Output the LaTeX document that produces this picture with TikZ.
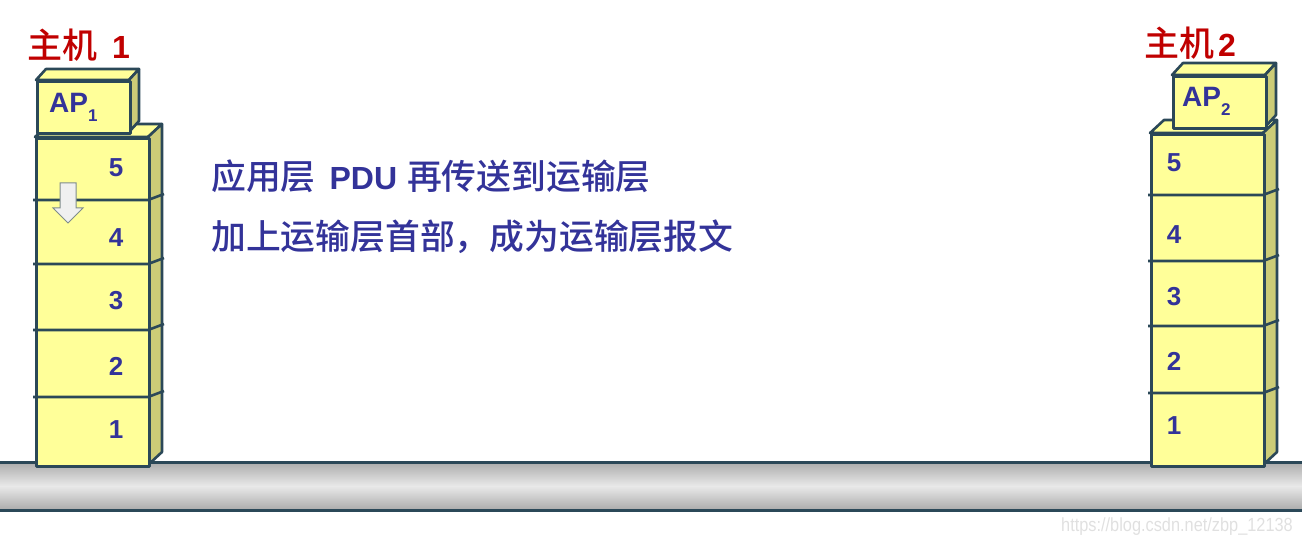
\documentclass[tikz,border=0pt]{standalone}
\usepackage{fontspec}
\setsansfont{Liberation Sans}
\newfontfamily\cjk{Noto Sans CJK SC}[UprightFont={* Medium}]
\definecolor{boxfront}{HTML}{FFFF99}
\definecolor{boxside}{HTML}{CCCC77}
\definecolor{edge}{HTML}{2B4858}
\definecolor{txtblue}{HTML}{333399}
\definecolor{hostred}{HTML}{C00000}
\definecolor{busdark}{HTML}{ABABAB}
\definecolor{buslight}{HTML}{E9E9E9}
\definecolor{arrfill}{HTML}{F0F0F0}
\definecolor{arredge}{HTML}{7F8C8C}
\tikzset{
  face/.style={draw=edge, line width=2.6pt, line join=round},
  front/.style={face, fill=boxfront},
  side/.style={face, fill=boxside},
  sep/.style={draw=edge, line width=2.6pt},
  laynum/.style={font=\sffamily\bfseries\fontsize{26}{26}\selectfont, text=txtblue, inner sep=0pt},
  aplabel/.style={font=\sffamily\bfseries\fontsize{28}{28}\selectfont, text=txtblue, inner sep=0pt, anchor=west},
  hostlabel/.style={font=\fontsize{35}{35}\selectfont, text=hostred, inner sep=0pt, anchor=west},
  maintext/.style={font=\fontsize{34.8}{34.8}\selectfont, text=txtblue, inner sep=0pt, anchor=west},
  downarrow/.style={draw=arredge, fill=arrfill, line width=1pt, line join=miter},
}
\newcommand\hostnum[1]{{\sffamily\bfseries\fontsize{32}{32}\selectfont #1}}
% 3D box: #1 name, #2 x1, #3 y1, #4 x2, #5 y2, #6 dx, #7 dy
\newcommand\mythreebox[7]{%
  \path[front] (#2,#3) -- ({#2+#6},{#3-#7}) -- ({#4+#6},{#3-#7}) -- (#4,#3) -- cycle;
  \path[side] (#4,#3) -- ({#4+#6},{#3-#7}) -- ({#4+#6},{#5-#7}) -- (#4,#5) -- cycle;
  \node[front, rectangle, inner sep=0pt, minimum width={#4-#2}, minimum height={#5-#3}, anchor=north west] (#1) at (#2,#3) {};
}
\begin{document}
\begin{tikzpicture}[x=1pt,y=-1pt]
\useasboundingbox (0,0) rectangle (1302,545);
% bus
\shade[top color=busdark, bottom color=busdark, middle color=buslight] (0,462) rectangle (1302,510);
\draw[sep, line width=3pt] (0,462) -- (1302,462);
\draw[sep, line width=3pt] (0,510) -- (1302,510);

% host 1 stack
\mythreebox{s1}{35}{137}{148}{465}{14}{13}
\mythreebox{ap1}{36}{80}{129}{132}{10}{11}
\foreach \yy in {200,264,330,397}{
  \draw[sep] (33,\yy) -- (148,\yy) -- (164,\yy-6);
}
\node[laynum] (h1n5) at (116,168) {5};
\node[laynum] (h1n4) at (116,238) {4};
\node[laynum] (h1n3) at (116,301) {3};
\node[laynum] (h1n2) at (116,366) {2};
\node[laynum] (h1n1) at (116,430) {1};
\node[aplabel] (ap1t) at (49,107) {AP\raisebox{-0.32em}{\fontsize{17}{17}\selectfont 1}};
\node[hostlabel] (host1) at (27,45) {{\cjk 主机}\hspace{15pt}\hostnum{1}};
\path[downarrow] (60,183) -- (76,183) -- (76,208) -- (83,208) -- (68,223) -- (53,208) -- (60,208) -- cycle;

% host 2 stack
\mythreebox{s2}{1150}{133}{1263}{465}{14}{13}
\mythreebox{ap2}{1172}{75}{1265}{127}{11}{12}
\foreach \yy in {195,261,326,393}{
  \draw[sep] (1148,\yy) -- (1263,\yy) -- (1279,\yy-6);
}
\node[laynum] (h2n5) at (1174,163) {5};
\node[laynum] (h2n4) at (1174,235) {4};
\node[laynum] (h2n3) at (1174,297) {3};
\node[laynum] (h2n2) at (1174,361) {2};
\node[laynum] (h2n1) at (1174,426) {1};
\node[aplabel] (ap2t) at (1182,101) {AP\raisebox{-0.32em}{\fontsize{17}{17}\selectfont 2}};
\node[hostlabel] (host2) at (1144,43) {{\cjk 主机}\hspace{4pt}\hostnum{2}};

% main texts
\node[maintext] (t1) at (211,176) {{\cjk 应用层}\hspace{14pt}{\sffamily\bfseries\fontsize{32}{32}\selectfont PDU}\hspace{10pt}{\cjk 再传送到运输层}};
\node[maintext] (t2) at (211,237) {{\cjk 加上运输层首部，成为运输层报文}};

% watermark
\node[font=\sffamily\fontsize{19}{19}\selectfont, text=black!12, inner sep=0pt, anchor=east, xscale=0.86] (wm) at (1293,527) {https://blog.csdn.net/zbp\_12138};
\end{tikzpicture}
\end{document}
